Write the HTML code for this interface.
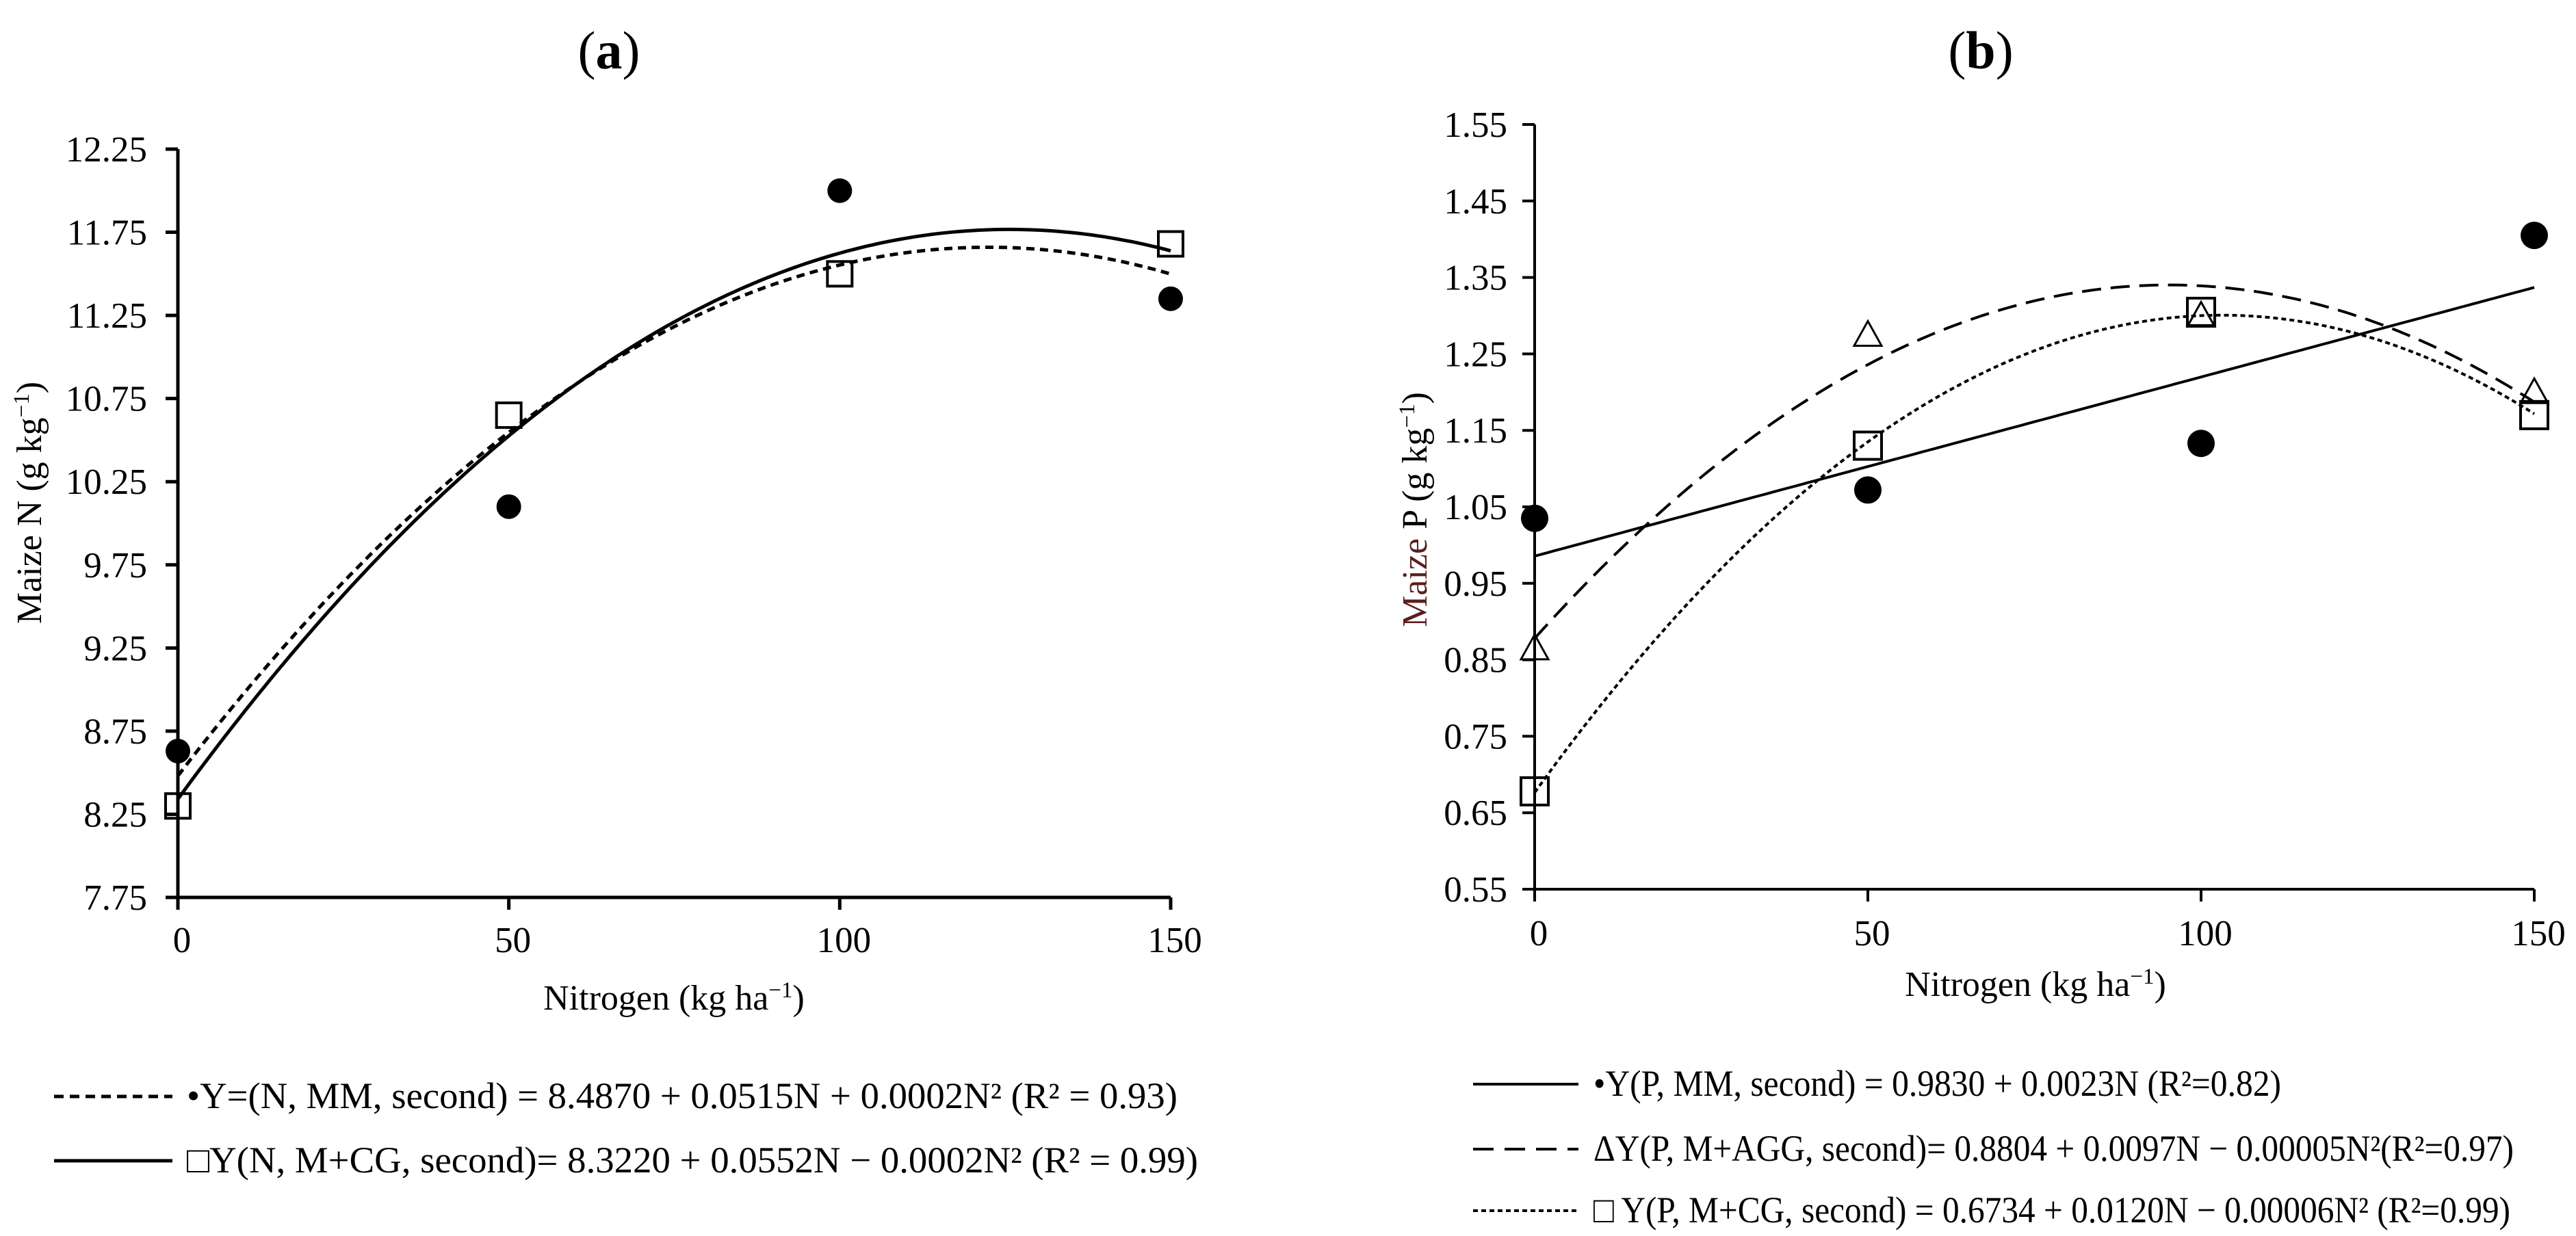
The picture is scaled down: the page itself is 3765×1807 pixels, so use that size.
<!DOCTYPE html>
<html><head><meta charset="utf-8"><style>
html,body{margin:0;padding:0;background:#fff;}
svg{display:block;font-family:"Liberation Serif",serif;}
</style></head><body>
<svg id="fig" width="3765" height="1807" viewBox="0 0 3765 1807" xmlns="http://www.w3.org/2000/svg">
<text x="890" y="100" font-size="78" text-anchor="middle">(<tspan font-weight="bold">a</tspan>)</text>
<text x="2895" y="100" font-size="78" text-anchor="middle">(<tspan font-weight="bold">b</tspan>)</text>
<g id="pa"></g>
<g id="pb"></g>
<text x="985" y="1476" font-size="52" text-anchor="middle">Nitrogen (kg ha<tspan font-size="33" dy="-18">−1</tspan><tspan dy="18">)</tspan></text>
<text x="2975" y="1456" font-size="52" text-anchor="middle">Nitrogen (kg ha<tspan font-size="33" dy="-18">−1</tspan><tspan dy="18">)</tspan></text>
<text transform="translate(60,735) rotate(-90)" font-size="52" text-anchor="middle">Maize N (g kg<tspan font-size="33" dy="-18">−1</tspan><tspan dy="18">)</tspan></text>
<text transform="translate(2085,745) rotate(-90)" font-size="52" text-anchor="middle"><tspan fill="#5a1f1f">Maize</tspan> P (g kg<tspan font-size="33" dy="-18">−1</tspan><tspan dy="18">)</tspan></text>
<g>
<line x1="79" y1="1603" x2="252" y2="1603" stroke="#000" stroke-width="5" stroke-dasharray="14,9"/>
<text x="273" y="1620" font-size="54" textLength="1448" lengthAdjust="spacingAndGlyphs">•Y=(N, MM, second) = 8.4870 + 0.0515N + 0.0002N² (R² = 0.93)</text>
<line x1="79" y1="1697" x2="252" y2="1697" stroke="#000" stroke-width="5"/>
<text x="273" y="1714" font-size="54" textLength="1478" lengthAdjust="spacingAndGlyphs">□Y(N, M+CG, second)= 8.3220 + 0.0552N − 0.0002N² (R² = 0.99)</text>
</g>
<g>
<line x1="2153" y1="1585" x2="2307" y2="1585" stroke="#000" stroke-width="4"/>
<text x="2329" y="1602" font-size="54" textLength="1005" lengthAdjust="spacingAndGlyphs">•Y(P, MM, second) = 0.9830 + 0.0023N (R²=0.82)</text>
<line x1="2153" y1="1680" x2="2307" y2="1680" stroke="#000" stroke-width="4" stroke-dasharray="30,16"/>
<text x="2329" y="1697" font-size="54" textLength="1345" lengthAdjust="spacingAndGlyphs">ΔY(P, M+AGG, second)= 0.8804 + 0.0097N − 0.00005N²(R²=0.97)</text>
<line x1="2153" y1="1770" x2="2307" y2="1770" stroke="#000" stroke-width="4" stroke-dasharray="7,5"/>
<text x="2329" y="1787" font-size="54" textLength="1340" lengthAdjust="spacingAndGlyphs">□ Y(P, M+CG, second) = 0.6734 + 0.0120N − 0.00006N² (R²=0.99)</text>
</g>
</svg>
<script>
const xCats = [0, 50, 100, 150];
const aTicks = [7.75, 8.25, 8.75, 9.25, 9.75, 10.25, 10.75, 11.25, 11.75, 12.25];
const aMM = [8.63, 10.10, 12.00, 11.35];
const aMCG = [8.30, 10.65, 11.50, 11.68];
const bTicks = [0.55, 0.65, 0.75, 0.85, 0.95, 1.05, 1.15, 1.25, 1.35, 1.45, 1.55];
const bMM = [1.035, 1.072, 1.133, 1.405];
const bMAGG = [0.865, 1.275, 1.300, 1.200];
const bMCG = [0.678, 1.130, 1.305, 1.170];

const NS = "http://www.w3.org/2000/svg";
function mk(parent, tag, attrs){const e=document.createElementNS(NS,tag);for(const k in attrs)e.setAttribute(k,attrs[k]);parent.appendChild(e);return e;}

function fit(xs, ys, deg){
  const n=deg+1, A=[], B=[];
  for(let i=0;i<n;i++){A.push(new Array(n).fill(0));B.push(0);}
  xs.forEach((x,k)=>{for(let i=0;i<n;i++){B[i]+=ys[k]*Math.pow(x,i);for(let j=0;j<n;j++)A[i][j]+=Math.pow(x,i+j);}});
  for(let i=0;i<n;i++){for(let r=i+1;r<n;r++){const f=A[r][i]/A[i][i];for(let c=i;c<n;c++)A[r][c]-=f*A[i][c];B[r]-=f*B[i];}}
  const c=new Array(n).fill(0);
  for(let i=n-1;i>=0;i--){let s=B[i];for(let j=i+1;j<n;j++)s-=A[i][j]*c[j];c[i]=s/A[i][i];}
  return x=>c.reduce((s,v,i)=>s+v*Math.pow(x,i),0);
}

function panel(g, cfg){
  const sx=v=>cfg.x0+(v-0)/(150-0)*(cfg.x1-cfg.x0);
  const sy=v=>cfg.y0+(v-cfg.ymin)/(cfg.ymax-cfg.ymin)*(cfg.y1-cfg.y0);
  const ax=mk(g,'line',{x1:cfg.x0,y1:sy(cfg.ymin),x2:cfg.x0,y2:sy(cfg.ymax),stroke:'#000','stroke-width':cfg.aw});
  
  
  const bx=mk(g,'line',{x1:cfg.x0,y1:cfg.y0,x2:cfg.x1,y2:cfg.y0,stroke:'#000','stroke-width':cfg.aw});
  
  
  cfg.ticks.forEach(t=>{
    const y=sy(t);
    const tl=mk(g,'line',{x1:cfg.x0-18,y1:y,x2:cfg.x0,y2:y,stroke:'#000','stroke-width':cfg.aw});
    
    
    const tx=mk(g,'text',{x:cfg.labR,y:y+18,'font-size':53,'text-anchor':'end'});
    tx.textContent=t.toFixed(2);
    
    
  });
  xCats.forEach(c=>{
    const x=sx(c);
    const tl=mk(g,'line',{x1:x,y1:cfg.y0,x2:x,y2:cfg.y0+18,stroke:'#000','stroke-width':cfg.aw});
    
    
    const tx=mk(g,'text',{x:x+6,y:cfg.xlabY,'font-size':53,'text-anchor':'middle'});
    tx.textContent=String(c);
    
    
  });
  cfg.series.forEach(s=>{
    const f=fit(xCats,s.vals,s.deg);
    let d='';
    for(let x=0;x<=150;x+=1){d+=(x?'L':'M')+sx(x).toFixed(1)+','+sy(f(x)).toFixed(1);}
    const p=mk(g,'path',{d:d,fill:'none',stroke:'#000','stroke-width':cfg.lw,'stroke-dasharray':s.dash||'none'});
    
    
  });
  cfg.series.forEach(s=>{
    s.vals.forEach((v,i)=>{
      const x=sx(xCats[i]), y=sy(v); let m;
      if(s.mark==='circle') m=mk(g,'circle',{cx:x,cy:y,r:cfg.r,fill:'#000'});
      else if(s.mark==='square') m=mk(g,'rect',{x:x-cfg.sq/2,y:y-cfg.sq/2,width:cfg.sq,height:cfg.sq,fill:'#fff','fill-opacity':0,stroke:'#000','stroke-width':4});
      else m=mk(g,'polygon',{points:`${x},${y-cfg.sq/2} ${x-cfg.sq/2},${y+cfg.sq/2-4} ${x+cfg.sq/2},${y+cfg.sq/2-4}`,fill:'none',stroke:'#000','stroke-width':3});
      
      
    });
  });
}

panel(document.getElementById('pa'),{p:'panel-a',x0:260,x1:1711,y0:1312,y1:218,ymin:7.75,ymax:12.25,ticks:aTicks,labR:215,xlabY:1392,aw:5,lw:5,r:18,sq:36,
  series:[{name:'a-mm',vals:aMM,deg:2,dash:'12,8',mark:'circle'},{name:'a-mcg',vals:aMCG,deg:2,mark:'square'}]});
panel(document.getElementById('pb'),{p:'panel-b',x0:2243,x1:3704,y0:1300,y1:182,ymin:0.55,ymax:1.55,ticks:bTicks,labR:2203,xlabY:1382,aw:4,lw:4,r:20,sq:40,
  series:[{name:'b-mm',vals:bMM,deg:1,mark:'circle'},{name:'b-magg',vals:bMAGG,deg:2,dash:'28,14',mark:'triangle'},{name:'b-mcg',vals:bMCG,deg:2,dash:'7,5',mark:'square'}]});
</script>
</body></html>
